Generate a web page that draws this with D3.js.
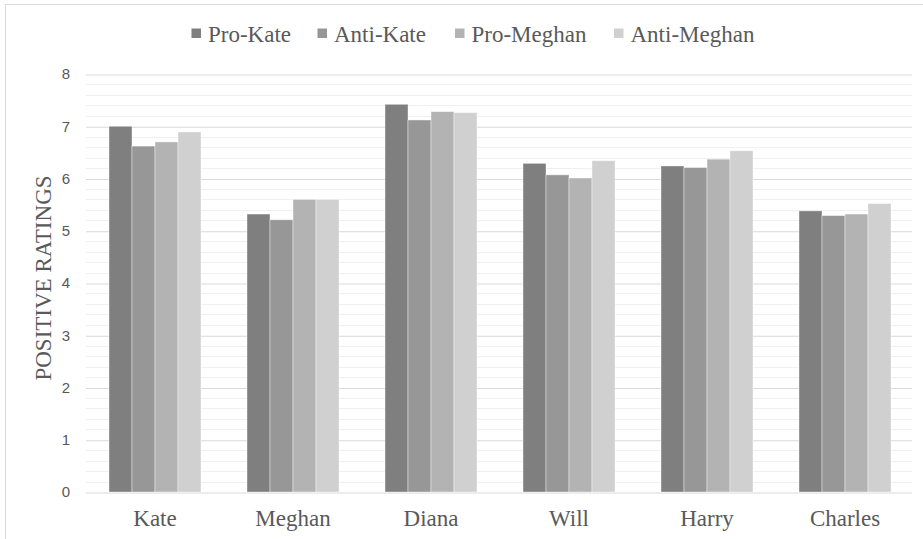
<!DOCTYPE html>
<html>
<head>
<meta charset="utf-8">
<script src="https://cdn.jsdelivr.net/npm/d3@7"></script>
<style>
  html, body { margin: 0; padding: 0; background: #fff; }
  svg { display: block; }
</style>
</head>
<body>
<script>
// Positive ratings of royal figures by respondent group
const categories = ["Kate", "Meghan", "Diana", "Will", "Harry", "Charles"];
const seriesNames = ["Pro-Kate", "Anti-Kate", "Pro-Meghan", "Anti-Meghan"];
const proKate    = [7.00, 5.32, 7.42, 6.29, 6.24, 5.38];
const antiKate   = [6.62, 5.21, 7.12, 6.07, 6.21, 5.29];
const proMeghan  = [6.70, 5.60, 7.28, 6.01, 6.37, 5.32];
const antiMeghan = [6.89, 5.60, 7.26, 6.34, 6.53, 5.52];
const yTicks = [0, 1, 2, 3, 4, 5, 6, 7, 8];
const seriesColors = ["#7f7f7f", "#979797", "#b3b3b3", "#d0d0d0"];

const seriesValues = [proKate, antiKate, proMeghan, antiMeghan];

const W = 923, H = 539;
const serif = "'Liberation Serif', 'Times New Roman', serif";
const textColor = "#595959";
const svg = d3.select("body").append("svg").attr("width", W).attr("height", H);

// chart frame
svg.append("rect")
  .attr("x", 5.5).attr("y", 4.5)
  .attr("width", W + 10).attr("height", H + 10)
  .attr("fill", "#fff").attr("stroke", "#d9d9d9").attr("stroke-width", 1);

const plot = { left: 86, right: 914, top: 74, bottom: 492 };

const x0 = d3.scaleBand()
  .domain(categories)
  .range([plot.left, plot.right])
  .paddingInner(1 / 3)
  .paddingOuter(1 / 6);

const x1 = d3.scaleBand()
  .domain(seriesNames)
  .range([0, x0.bandwidth()]);

const y = d3.scaleLinear().domain([0, 8]).range([plot.bottom, plot.top]);

// minor gridlines
const minor = d3.range(0, 8.001, 0.2).filter(v => Math.abs(v - Math.round(v)) > 1e-6);
svg.append("g")
  .selectAll("line")
  .data(minor)
  .join("line")
  .attr("x1", plot.left).attr("x2", plot.right - 2)
  .attr("y1", d => Math.round(y(d)) + 0.5)
  .attr("y2", d => Math.round(y(d)) + 0.5)
  .attr("stroke", "#f0f0f0").attr("stroke-width", 1);

// major gridlines via axis
const yAxis = d3.axisLeft(y)
  .tickValues(yTicks)
  .tickSize(-(plot.right - 2 - plot.left))
  .tickPadding(16)
  .tickFormat(d3.format("d"));

const gy = svg.append("g")
  .attr("transform", `translate(${plot.left},0)`)
  .call(yAxis);
gy.select(".domain").remove();
gy.selectAll(".tick line")
  .attr("stroke", "#d9d9d9")
  .attr("transform", "translate(0,0.5)");
gy.selectAll(".tick text")
  .attr("fill", textColor)
  .attr("font-family", "'Liberation Sans', Arial, sans-serif")
  .attr("font-size", 15)
  .attr("text-anchor", "middle")
  .attr("x", -20);

// bars
const rows = categories.map((c, i) => ({
  cat: c,
  vals: seriesNames.map((s, j) => ({ s, j, v: seriesValues[j][i] }))
}));

svg.append("g")
  .selectAll("g")
  .data(rows)
  .join("g")
  .attr("transform", d => `translate(${x0(d.cat)},0)`)
  .selectAll("rect")
  .data(d => d.vals)
  .join("rect")
  .attr("x", d => x1(d.s))
  .attr("width", x1.bandwidth())
  .attr("y", d => y(d.v))
  .attr("height", d => y(0) - y(d.v))
  .attr("fill", d => seriesColors[d.j])
  .attr("stroke", "#ffffff")
  .attr("stroke-opacity", 0.5)
  .attr("stroke-width", 0.8);

// category axis
const xAxis = d3.axisBottom(x0).tickSize(0).tickPadding(18);
const gx = svg.append("g")
  .attr("transform", `translate(0,${plot.bottom})`)
  .call(xAxis);
gx.select(".domain").remove();
gx.selectAll(".tick text")
  .attr("fill", textColor)
  .attr("font-family", serif)
  .attr("font-size", 23);

// y-axis title
svg.append("text")
  .attr("transform", `translate(51,278) rotate(-90)`)
  .attr("text-anchor", "middle")
  .attr("fill", textColor)
  .attr("font-family", serif)
  .attr("font-size", 23)
  .text("POSITIVE RATINGS");

// legend
const legendX = [191.5, 317.5, 455, 614];
const legend = svg.append("g")
  .selectAll("g")
  .data(seriesNames)
  .join("g")
  .attr("transform", (d, i) => `translate(${legendX[i]},28.5)`);
legend.append("rect")
  .attr("width", 9.5).attr("height", 9.5)
  .attr("fill", (d, i) => seriesColors[i]);
legend.append("text")
  .attr("x", 16.5).attr("y", 13.2)
  .attr("fill", textColor)
  .attr("font-family", serif)
  .attr("font-size", 23)
  .text(d => d);
</script>
</body>
</html>
